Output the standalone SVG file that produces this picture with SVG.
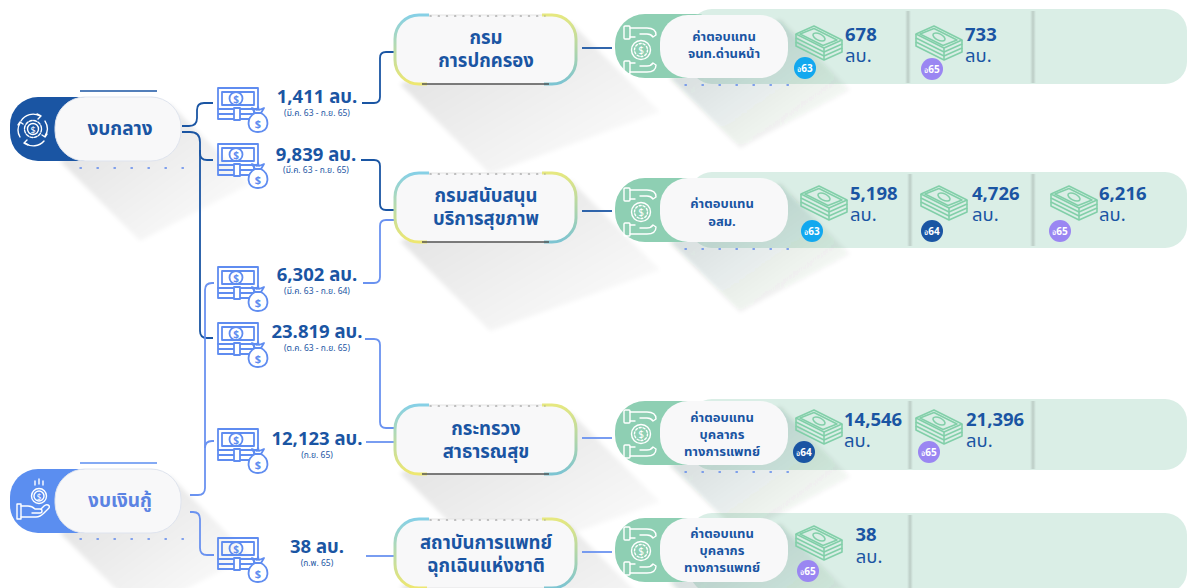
<svg xmlns="http://www.w3.org/2000/svg" width="1188" height="588" viewBox="0 0 1188 588">
  <defs>
    <style>
      text { font-family: 'Noto Sans Thai', 'Noto Sans', 'DejaVu Sans', sans-serif; }
      .lbl { font-size: 19px; font-weight: 700; fill: #1a55a3; text-anchor: middle; }
      .lbl2 { font-size: 19px; font-weight: 700; fill: #5b83e3; text-anchor: middle; }
      .mid { font-size: 18.5px; font-weight: 700; fill: #1a55a3; text-anchor: middle; }
      .pay { font-size: 13px; font-weight: 700; fill: #1a55a3; text-anchor: middle; }
      .amt { font-size: 18.5px; font-weight: 700; fill: #1a55a3; text-anchor: middle; }
      .per { font-size: 8.5px; fill: #1a55a3; text-anchor: middle; }
      .num { font-size: 18.5px; font-weight: 700; fill: #1a55a3; }
      .unit { font-size: 18.5px; fill: #1a55a3; }
      .badge { font-size: 10px; font-weight: 700; fill: #ffffff; text-anchor: middle; }
      .dk { fill: none; stroke: #1a55a3; stroke-width: 1.8; }
      .lt { fill: none; stroke: #6a92f0; stroke-width: 1.8; }
      .dots-b { fill: none; stroke: #5b86ec; stroke-width: 1.4; stroke-dasharray: 1.4 15.6; stroke-linecap: round; }
      .dots-g { fill: none; stroke: #8a8a8a; stroke-width: 1.2; stroke-dasharray: 1.2 7; stroke-linecap: round; }
      .pill { fill: #f8f8f9; }
      .panel { fill: #daeee6; }
      .gtab { fill: #8ecfb3; }
      .wico { fill: none; stroke: #ffffff; stroke-width: 1.4; stroke-linecap: round; stroke-linejoin: round; }
      .cashico { fill: none; stroke: #5f8cf0; stroke-width: 1.8; stroke-linejoin: round; }
      .stackico { fill: none; stroke: #82cfa9; stroke-width: 1.6; stroke-linejoin: round; }
      .shadow { fill: url(#shadeGrad); }
      .shadow2 { fill: url(#shadeGrad2); }
    </style>

    <linearGradient id="shadeGrad" x1="0" y1="0" x2="1" y2="1">
      <stop offset="0" stop-color="#000" stop-opacity="0.13"/>
      <stop offset="1" stop-color="#000" stop-opacity="0"/>
    </linearGradient>
    <linearGradient id="shadeGrad2" x1="0" y1="0" x2="1" y2="1">
      <stop offset="0" stop-color="#0a3a2a" stop-opacity="0.2"/>
      <stop offset="1" stop-color="#0a3a2a" stop-opacity="0"/>
    </linearGradient>
    <linearGradient id="divGrad" x1="0" y1="0" x2="1" y2="0">
      <stop offset="0" stop-color="#000" stop-opacity="0"/>
      <stop offset="0.5" stop-color="#000" stop-opacity="0.14"/>
      <stop offset="1" stop-color="#000" stop-opacity="0"/>
    </linearGradient>
    <linearGradient id="rimL" x1="0" y1="0" x2="0" y2="1">
      <stop offset="0" stop-color="#86d0e6"/>
      <stop offset="1" stop-color="#eee770"/>
    </linearGradient>
    <linearGradient id="rimR" x1="0" y1="0" x2="0" y2="1">
      <stop offset="0" stop-color="#e6e880"/>
      <stop offset="1" stop-color="#7cc4d2"/>
    </linearGradient>
    <filter id="soft" x="-20%" y="-20%" width="140%" height="140%">
      <feGaussianBlur stdDeviation="2"/>
    </filter>

    <!-- banknote with money bag -->
    <symbol id="cash" viewBox="0 0 52 46" overflow="visible">
      <g class="cashico">
        <rect x="1" y="1" width="40" height="21"/>
        <path d="M5,7 V5 H37 V18 H5 Z"/>
        <circle cx="19" cy="11.5" r="6.5"/>
        <rect x="1" y="22" width="36" height="10"/>
        <line x1="1" y1="27" x2="37" y2="27"/>
        <rect x="17" y="21" width="6" height="12" fill="#fff"/>
        <path d="M38,26 H44 C53,31 53,45 41,45 C29,45 29,31 38,26 Z" fill="#fff"/>
        <path d="M38,26 L35,21 L40,23 L41,20 L42,23 L47,21 L44,26"/>
      </g>
      <text x="19" y="15.5" font-size="10" font-weight="700" fill="#5f8cf0" text-anchor="middle">$</text>
      <text x="41" y="41" font-size="11" font-weight="700" fill="#5f8cf0" text-anchor="middle">$</text>
    </symbol>

    <!-- stacked banknotes -->
    <symbol id="stack" viewBox="0 0 48 40" overflow="visible">
      <g class="stackico">
        <path d="M1,10 L19,2 L47,16 L29,24 Z"/>
        <path d="M5,10 L19,4.5 L42,16 L28,21.5 Z"/>
        <ellipse cx="24" cy="13" rx="6.5" ry="3.2" transform="rotate(26 24 13)"/>
        <path d="M1,10 V14 L29,28 L47,20 V16"/>
        <path d="M1,14 V18 L29,32 L47,24 V20"/>
        <path d="M1,18 V22 L29,36 L47,28 V24"/>
        <line x1="29" y1="24" x2="29" y2="36"/>
      </g>
    </symbol>

    <!-- open hands around a coin -->
    <symbol id="hands" viewBox="0 0 36 52" overflow="visible">
      <g class="wico">
        <rect x="1" y="2" width="6" height="13" rx="1"/>
        <path d="M7,4 H24 Q33,4 33,11 L30,13 Q28,10 24,10 H17"/>
        <path d="M7,13 H12"/>
        <rect x="1" y="37" width="6" height="13" rx="1"/>
        <path d="M7,48 H24 Q33,48 33,41 L30,39 Q28,42 24,42 H17"/>
        <path d="M7,39 H12"/>
        <circle cx="18" cy="26" r="9.5"/>
        <circle cx="18" cy="26" r="6.5" stroke-dasharray="2 2"/>
      </g>
      <text x="18" y="30" font-size="10" fill="#fff" text-anchor="middle">$</text>
    </symbol>
  </defs>

  <rect width="1188" height="588" fill="#ffffff"/>

  <!-- soft long shadows -->
  <g id="shadows" filter="url(#soft)">
    <polygon class="shadow" points="170,104 250,184 140,241 60,161"/>
    <polygon class="shadow" points="170,476 250,556 140,613 60,533"/>
    <polygon class="shadow" points="570,22 660,112 490,174 400,84"/>
    <polygon class="shadow" points="570,180 660,270 490,331 400,241"/>
    <polygon class="shadow" points="570,412 660,502 490,563 400,473"/>
    <polygon class="shadow" points="570,526 660,616 490,677 400,587"/>
  </g>

  <!-- right panels -->
  <g id="panels">
    <rect class="panel" x="690" y="9" width="497" height="75" rx="22"/>
    <rect class="panel" x="690" y="172" width="497" height="76" rx="22"/>
    <rect class="panel" x="690" y="399" width="497" height="71" rx="22"/>
    <rect class="panel" x="690" y="513" width="497" height="80" rx="22"/>
    <g fill="url(#divGrad)">
      <rect x="905" y="11" width="6" height="72"/>
      <rect x="1030" y="11" width="6" height="72"/>
      <rect x="907" y="174" width="6" height="72"/>
      <rect x="1030" y="174" width="6" height="72"/>
      <rect x="907" y="401" width="6" height="68"/>
      <rect x="1030" y="401" width="6" height="68"/>
      <rect x="907" y="515" width="6" height="73"/>
    </g>
    <g filter="url(#soft)">
      <polygon class="shadow2" points="780,20 850,90 740,148 670,78"/>
      <polygon class="shadow2" points="780,184 850,254 740,312 670,242"/>
      <polygon class="shadow2" points="780,407 850,477 740,535 670,465"/>
      <polygon class="shadow2" points="780,524 850,594 740,652 670,582"/>
    </g>
  </g>

  <!-- connectors -->
  <g id="connectors">
    <path class="dk" d="M182,126 H189 Q197,126 197,118 V110 Q197,103 204,103 H213"/>
    <path class="dk" d="M182,132 H190 Q200,132 200,142 V331 Q200,338 207,338 H213"/>
    <path class="dk" d="M200,150 V153 Q200,160 207,160 H213"/>
    <path class="lt" d="M190,495 H198 Q205,495 205,488 V290 Q205,283 212,283 H214"/>
    <path class="lt" d="M205,448 Q205,441 212,441 H214"/>
    <path class="lt" d="M190,512 H193 Q200,512 200,519 V548 Q200,555 207,555 H214"/>

    <path class="dk" d="M362,103 H374 Q380,103 380,97 V58 Q380,52 386,52 H395"/>
    <path class="dk" d="M361,160 H374 Q380,160 380,166 V204 Q380,210 386,210 H395"/>
    <path class="lt" d="M363,283 H374 Q380,283 380,277 V226 Q380,220 386,220 H395"/>
    <path class="lt" d="M365,339 H374 Q380,339 380,345 V422 Q380,428 386,428 H395"/>
    <path class="lt" d="M366,442 H395"/>
    <path class="lt" d="M366,556 H395"/>

    <path class="dk" d="M582,48 H612"/>
    <path class="dk" d="M582,211 H612"/>
    <path class="lt" d="M582,438 H612"/>
    <path class="lt" d="M582,552 H612"/>
  </g>

  <!-- budget source: central fund -->
  <g id="node-central">
    <line x1="80" y1="91" x2="157" y2="91" stroke="#1a55a3" stroke-width="1.5"/>
    <rect x="10" y="97" width="110" height="64" rx="28" fill="#1a55a3"/>
    <rect class="pill" x="55" y="97" width="126" height="64" rx="30" stroke="#dfe4ee" stroke-width="1"/>
    <text class="lbl" x="120" y="135">งบกลาง</text>
    <line class="dots-b" x1="80" y1="168" x2="184" y2="168"/>
    <g class="wico" stroke-width="1.3">
      <path d="M21,121 A14,14 0 0 1 40,116"/>
      <path d="M45,121 A14,14 0 0 1 45,136"/>
      <path d="M44,141 A14,14 0 0 1 25,143"/>
      <path d="M20,137 A14,14 0 0 1 20,123"/>
      <path d="M37,114 L41,116 L38,119"/>
      <path d="M47,134 L45,137 L42,135"/>
      <path d="M28,145 L24,143 L27,140"/>
      <path d="M18,125 L20,122 L23,124"/>
      <circle cx="33" cy="129" r="8.5" stroke-dasharray="3 1.5"/>
      <circle cx="33" cy="129" r="5.5"/>
    </g>
    <text x="33" y="132.5" font-size="9" fill="#fff" text-anchor="middle">$</text>
  </g>

  <!-- budget source: loan -->
  <g id="node-loan">
    <line x1="80" y1="463" x2="157" y2="463" stroke="#5b8ef0" stroke-width="1.5"/>
    <rect x="10" y="469" width="110" height="64" rx="28" fill="#5b8ef0"/>
    <rect class="pill" x="55" y="469" width="126" height="64" rx="30" stroke="#dfe4ee" stroke-width="1"/>
    <text class="lbl2" x="120" y="507">งบเงินกู้</text>
    <line class="dots-b" x1="80" y1="539" x2="184" y2="539"/>
    <g class="wico" stroke-width="1.3">
      <circle cx="39" cy="496" r="7.5"/>
      <circle cx="39" cy="496" r="5"/>
      <path d="M35,485 V481 M39,484 V479 M43,485 V481"/>
      <path d="M17,504 H21 V519 H17 Z"/>
      <path d="M21,506 H28 Q32,506 35,509 H40 Q42,509 42,511 Q42,513 40,513 H32"/>
      <path d="M21,517 H36 Q40,517 44,513 L49,508 Q50,506 48,505 Q46,504 44,506 L41,509"/>
    </g>
    <text x="39" y="499.5" font-size="8" fill="#fff" text-anchor="middle">$</text>
  </g>

  <!-- amounts -->
  <g id="amt-1411">
    <use href="#cash" x="217" y="87" width="52" height="46"/>
    <text class="amt" x="317" y="103">1,411 ลบ.</text>
    <text class="per" x="317" y="115.5">(มี.ค. 63 - ก.ย. 65)</text>
  </g>
  <g id="amt-9839">
    <use href="#cash" x="217" y="143" width="52" height="46"/>
    <text class="amt" x="316" y="161">9,839 ลบ.</text>
    <text class="per" x="316" y="173">(มี.ค. 63 - ก.ย. 65)</text>
  </g>
  <g id="amt-6302">
    <use href="#cash" x="217" y="266" width="52" height="46"/>
    <text class="amt" x="317" y="281">6,302 ลบ.</text>
    <text class="per" x="317" y="293.5">(มี.ค. 63 - ก.ย. 64)</text>
  </g>
  <g id="amt-23819">
    <use href="#cash" x="217" y="322" width="52" height="46"/>
    <text class="amt" x="317" y="338">23.819 ลบ.</text>
    <text class="per" x="317" y="351">(ต.ค. 63 - ก.ย. 65)</text>
  </g>
  <g id="amt-12123">
    <use href="#cash" x="217" y="428" width="52" height="46"/>
    <text class="amt" x="317" y="445">12,123 ลบ.</text>
    <text class="per" x="317" y="457.5">(ก.ย. 65)</text>
  </g>
  <g id="amt-38">
    <use href="#cash" x="217" y="537" width="52" height="46"/>
    <text class="amt" x="317" y="553">38 ลบ.</text>
    <text class="per" x="317" y="566">(ก.พ. 65)</text>
  </g>

  <!-- agencies -->
  <g id="agency-dopa">
    <rect class="pill" x="395" y="15" width="181" height="69" rx="24" stroke="#e4e4e4"/>
    <path d="M429,15 H419 A24,24 0 0 0 395,39 V60 A24,24 0 0 0 419,84 H427" fill="none" stroke="url(#rimL)" stroke-width="3"/>
    <path d="M542,15 H552 A24,24 0 0 1 576,39 V60 A24,24 0 0 1 552,84 H544" fill="none" stroke="url(#rimR)" stroke-width="3"/>
    <line class="dots-g" x1="430" y1="16" x2="545" y2="16"/>
    <line x1="422" y1="84" x2="549" y2="84" stroke="#555" stroke-width="1.5"/>
    <text class="mid" x="486" y="44">กรม</text>
    <text class="mid" x="486" y="67">การปกครอง</text>
  </g>
  <g id="agency-hss">
    <rect class="pill" x="395" y="173" width="181" height="69" rx="24" stroke="#e4e4e4"/>
    <path d="M429,173 H419 A24,24 0 0 0 395,197 V218 A24,24 0 0 0 419,242 H427" fill="none" stroke="url(#rimL)" stroke-width="3"/>
    <path d="M542,173 H552 A24,24 0 0 1 576,197 V218 A24,24 0 0 1 552,242 H544" fill="none" stroke="url(#rimR)" stroke-width="3"/>
    <line class="dots-g" x1="430" y1="174" x2="545" y2="174"/>
    <line x1="422" y1="242" x2="549" y2="242" stroke="#555" stroke-width="1.5"/>
    <text class="mid" x="486" y="202">กรมสนับสนุน</text>
    <text class="mid" x="486" y="225">บริการสุขภาพ</text>
  </g>
  <g id="agency-moph">
    <rect class="pill" x="395" y="405" width="181" height="69" rx="24" stroke="#e4e4e4"/>
    <path d="M429,405 H419 A24,24 0 0 0 395,429 V450 A24,24 0 0 0 419,474 H427" fill="none" stroke="url(#rimL)" stroke-width="3"/>
    <path d="M542,405 H552 A24,24 0 0 1 576,429 V450 A24,24 0 0 1 552,474 H544" fill="none" stroke="url(#rimR)" stroke-width="3"/>
    <line class="dots-g" x1="430" y1="406" x2="545" y2="406"/>
    <line x1="422" y1="474" x2="549" y2="474" stroke="#555" stroke-width="1.5"/>
    <text class="mid" x="486" y="435">กระทรวง</text>
    <text class="mid" x="486" y="458">สาธารณสุข</text>
  </g>
  <g id="agency-niem">
    <rect class="pill" x="395" y="519" width="181" height="69" rx="24" stroke="#e4e4e4"/>
    <path d="M429,519 H419 A24,24 0 0 0 395,543 V564 A24,24 0 0 0 419,588 H427" fill="none" stroke="url(#rimL)" stroke-width="3"/>
    <path d="M542,519 H552 A24,24 0 0 1 576,543 V564 A24,24 0 0 1 552,588 H544" fill="none" stroke="url(#rimR)" stroke-width="3"/>
    <line class="dots-g" x1="430" y1="520" x2="545" y2="520"/>
    <text class="mid" x="486" y="549">สถาบันการแพทย์</text>
    <text class="mid" x="486" y="572">ฉุกเฉินแห่งชาติ</text>
  </g>

  <!-- payments: front-line officers -->
  <g id="pay-frontline">
    <rect class="gtab" x="615" y="14" width="110" height="64" rx="30"/>
    <use href="#hands" x="623" y="24" width="36" height="52"/>
    <rect class="pill" x="660" y="15" width="128" height="63" rx="28"/>
    <text class="pay" x="724" y="41">ค่าตอบแทน</text>
    <text class="pay" x="724" y="58">จนท.ด่านหน้า</text>
    <line class="dots-b" x1="685" y1="85" x2="792" y2="85"/>
    <use href="#stack" x="795" y="24" width="48" height="40"/>
    <text class="num" x="845" y="41">678</text>
    <text class="unit" x="845" y="62">ลบ.</text>
    <circle cx="805" cy="68" r="11" fill="#12a8ef"/>
    <text class="badge" x="805" y="72"><tspan font-size="6">ปี</tspan>63</text>
    <use href="#stack" x="915" y="24" width="48" height="40"/>
    <text class="num" x="965" y="41">733</text>
    <text class="unit" x="965" y="62">ลบ.</text>
    <circle cx="932" cy="69" r="11" fill="#9a86f2"/>
    <text class="badge" x="932" y="73"><tspan font-size="6">ปี</tspan>65</text>
  </g>

  <!-- payments: village health volunteers -->
  <g id="pay-vhv">
    <rect class="gtab" x="615" y="178" width="110" height="64" rx="30"/>
    <use href="#hands" x="623" y="186" width="36" height="52"/>
    <rect class="pill" x="660" y="178" width="128" height="64" rx="28"/>
    <text class="pay" x="722" y="208">ค่าตอบแทน</text>
    <text class="pay" x="722" y="226">อสม.</text>
    <line class="dots-b" x1="685" y1="249" x2="792" y2="249"/>
    <use href="#stack" x="800" y="184" width="48" height="40"/>
    <text class="num" x="850" y="200">5,198</text>
    <text class="unit" x="850" y="221">ลบ.</text>
    <circle cx="812" cy="231" r="11" fill="#12a8ef"/>
    <text class="badge" x="812" y="235"><tspan font-size="6">ปี</tspan>63</text>
    <use href="#stack" x="920" y="184" width="48" height="40"/>
    <text class="num" x="972" y="200">4,726</text>
    <text class="unit" x="972" y="221">ลบ.</text>
    <circle cx="932" cy="231" r="11" fill="#1a55a3"/>
    <text class="badge" x="932" y="235"><tspan font-size="6">ปี</tspan>64</text>
    <use href="#stack" x="1050" y="184" width="48" height="40"/>
    <text class="num" x="1099" y="200">6,216</text>
    <text class="unit" x="1099" y="221">ลบ.</text>
    <circle cx="1060" cy="231" r="11" fill="#9a86f2"/>
    <text class="badge" x="1060" y="235"><tspan font-size="6">ปี</tspan>65</text>
  </g>

  <!-- payments: medical personnel (ministry) -->
  <g id="pay-medical">
    <rect class="gtab" x="615" y="401" width="110" height="64" rx="30"/>
    <use href="#hands" x="623" y="408" width="36" height="52"/>
    <rect class="pill" x="660" y="401" width="128" height="64" rx="28"/>
    <text class="pay" x="722" y="422">ค่าตอบแทน</text>
    <text class="pay" x="722" y="439">บุคลากร</text>
    <text class="pay" x="722" y="456">ทางการแพทย์</text>
    <line class="dots-b" x1="685" y1="472" x2="792" y2="472"/>
    <use href="#stack" x="795" y="408" width="48" height="40"/>
    <text class="num" x="844" y="426">14,546</text>
    <text class="unit" x="844" y="447">ลบ.</text>
    <circle cx="804" cy="452" r="11" fill="#1a55a3"/>
    <text class="badge" x="804" y="456"><tspan font-size="6">ปี</tspan>64</text>
    <use href="#stack" x="915" y="408" width="48" height="40"/>
    <text class="num" x="966" y="426">21,396</text>
    <text class="unit" x="966" y="447">ลบ.</text>
    <circle cx="929" cy="452" r="11" fill="#9a86f2"/>
    <text class="badge" x="929" y="456"><tspan font-size="6">ปี</tspan>65</text>
  </g>

  <!-- payments: medical personnel (emergency institute) -->
  <g id="pay-emergency">
    <rect class="gtab" x="615" y="518" width="110" height="64" rx="30"/>
    <use href="#hands" x="623" y="525" width="36" height="52"/>
    <rect class="pill" x="660" y="518" width="128" height="64" rx="28"/>
    <text class="pay" x="722" y="538">ค่าตอบแทน</text>
    <text class="pay" x="722" y="555">บุคลากร</text>
    <text class="pay" x="722" y="572">ทางการแพทย์</text>
    <use href="#stack" x="795" y="524" width="48" height="40"/>
    <text class="num" x="866" y="541" text-anchor="middle">38</text>
    <text class="unit" x="869" y="563" text-anchor="middle">ลบ.</text>
    <circle cx="808" cy="571" r="11" fill="#9a86f2"/>
    <text class="badge" x="808" y="575"><tspan font-size="6">ปี</tspan>65</text>
  </g>
</svg>
